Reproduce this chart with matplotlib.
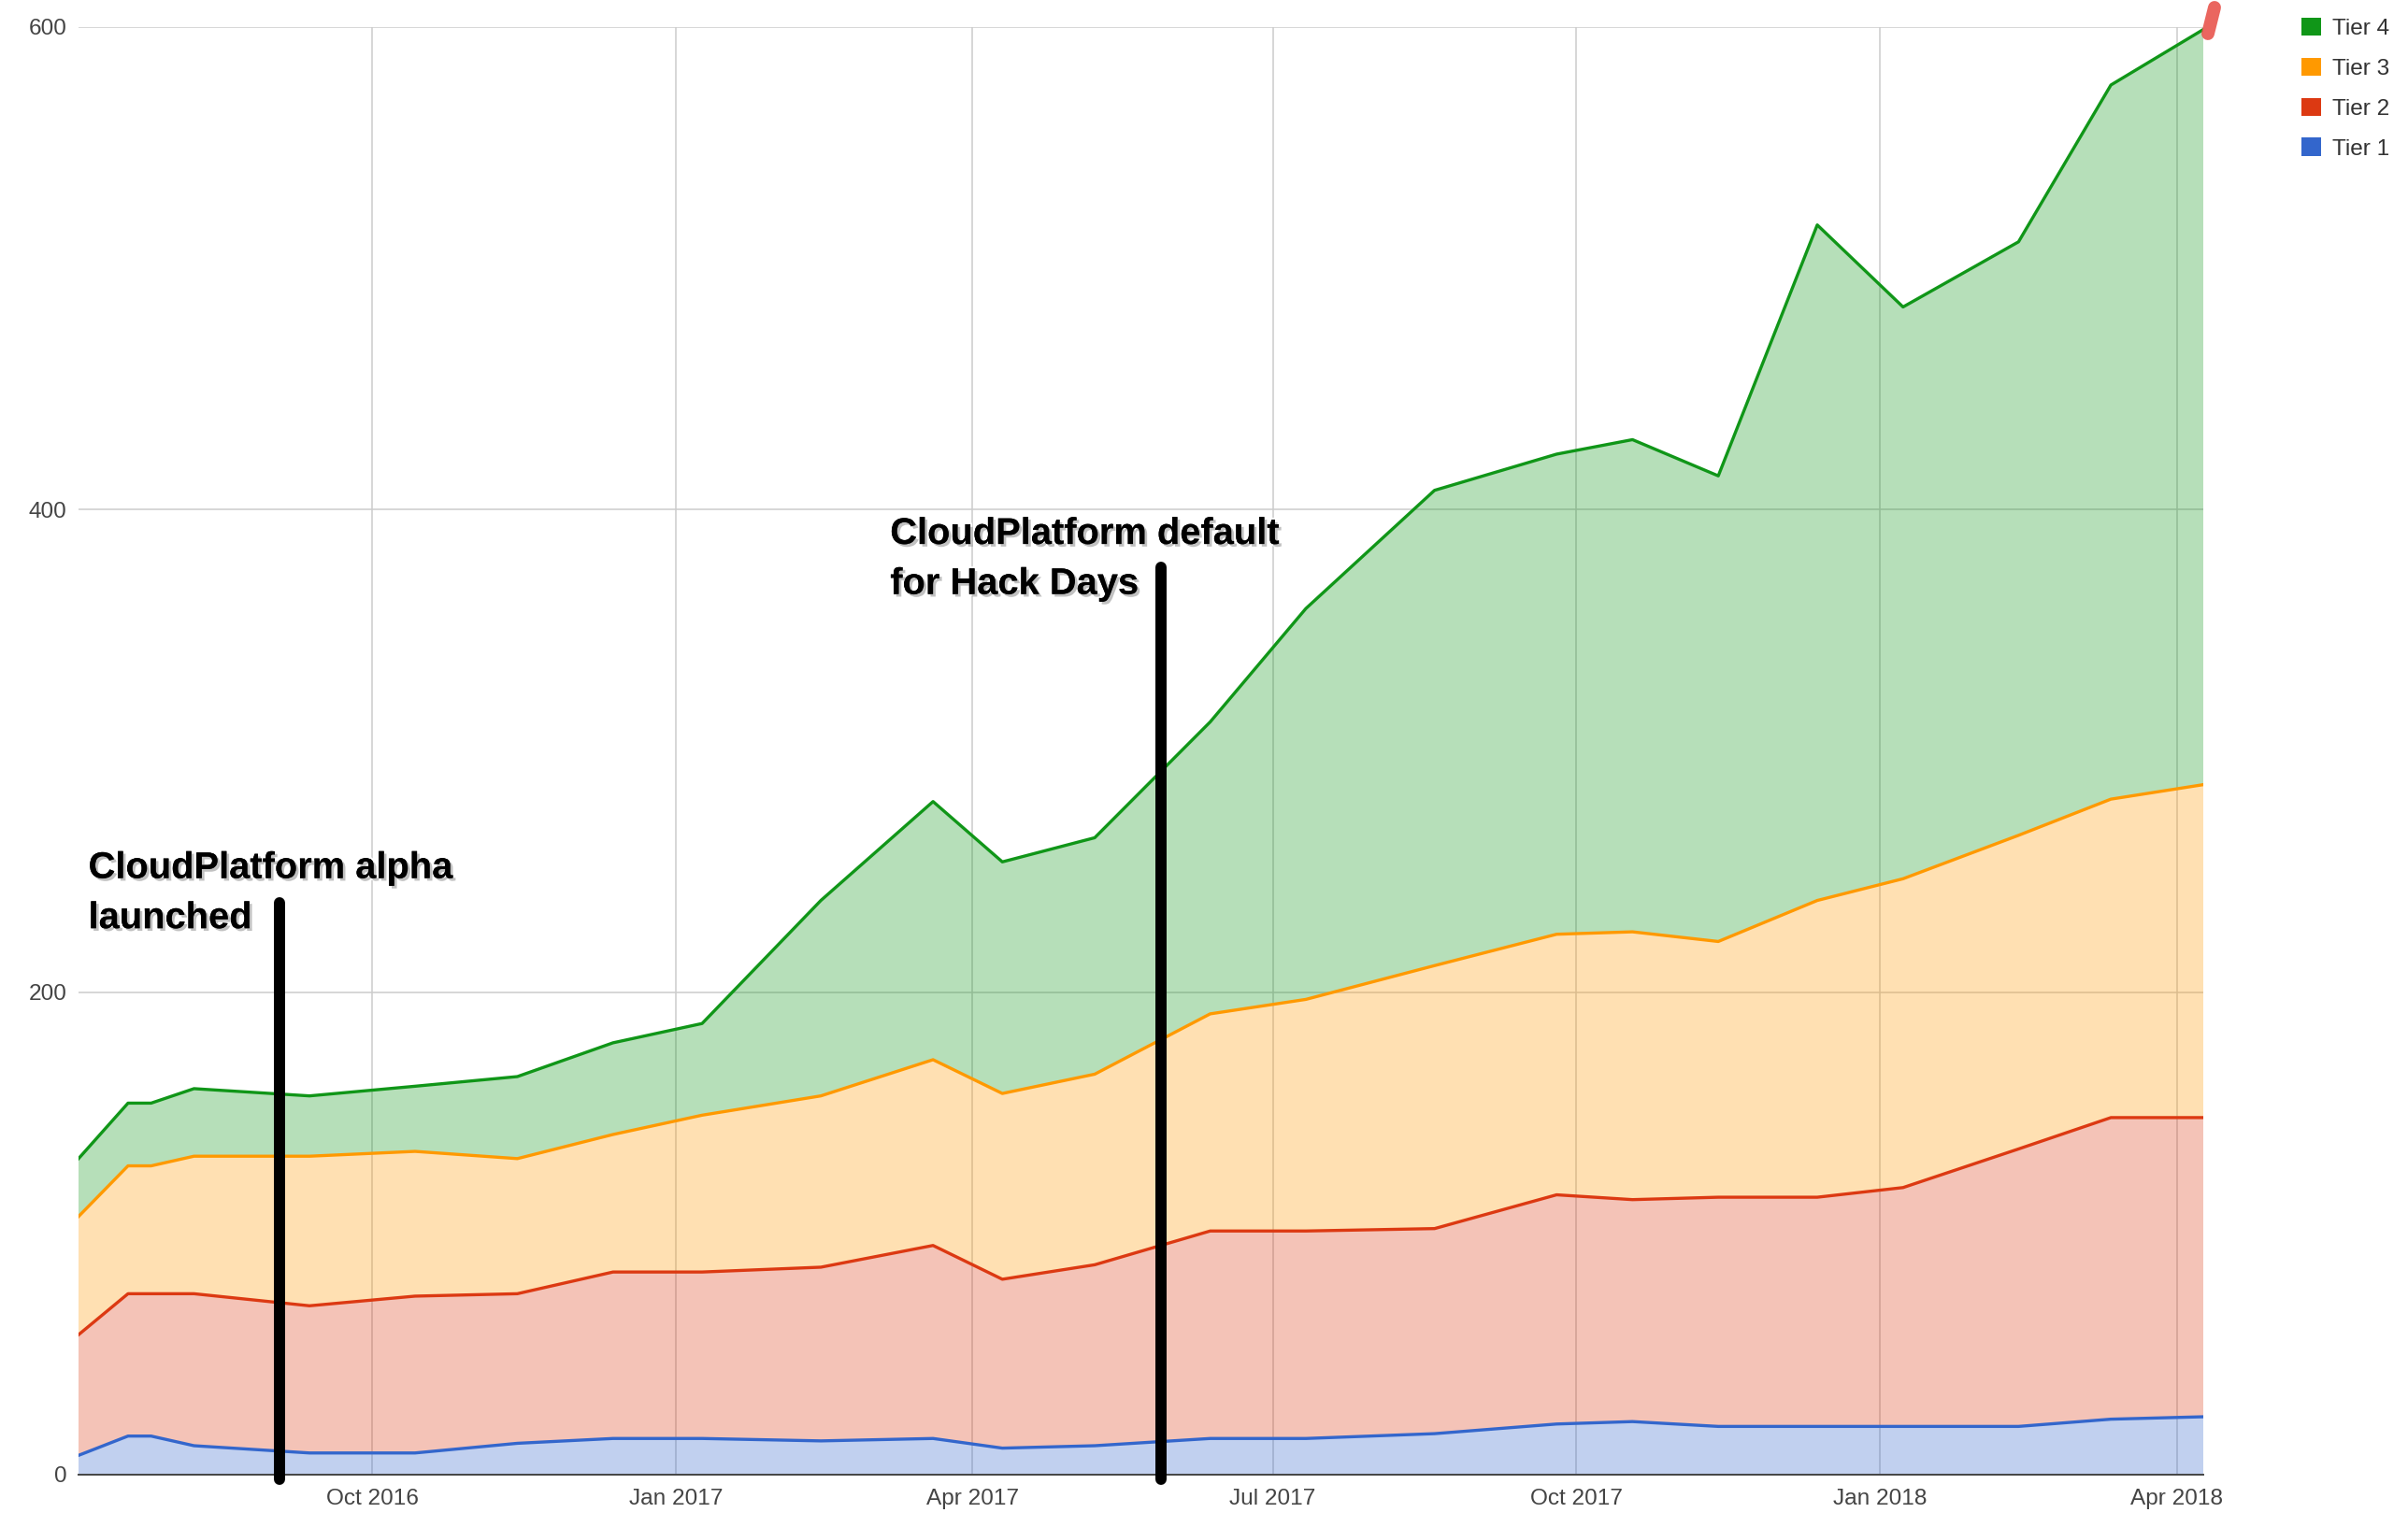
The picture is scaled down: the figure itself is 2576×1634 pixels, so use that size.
import numpy as np
import pandas as pd
import matplotlib
matplotlib.use("Agg")
import matplotlib.pyplot as plt
import matplotlib.dates as mdates
import matplotlib.patheffects as pe
from matplotlib.patches import Patch
from matplotlib.lines import Line2D

plt.rcParams['font.family'] = ['Liberation Sans', 'DejaVu Sans']

# data (stacked values per tier)
dates = pd.to_datetime([
    "2016-07-04", "2016-07-19", "2016-07-26", "2016-08-08", "2016-09-12",
    "2016-10-14", "2016-11-14", "2016-12-13", "2017-01-09", "2017-02-14",
    "2017-03-20", "2017-04-10", "2017-05-08", "2017-06-12", "2017-07-11",
    "2017-08-19", "2017-09-25", "2017-10-18", "2017-11-13", "2017-12-13",
    "2018-01-08", "2018-02-12", "2018-03-12", "2018-04-09"])
tier1 = [8, 16, 16, 12, 9, 9, 13, 15, 15, 14, 15, 11, 12, 15, 15, 17, 21, 22, 20, 20, 20, 20, 23, 24]
tier2 = [50, 59, 59, 63, 61, 65, 62, 69, 69, 72, 80, 70, 75, 86, 86, 85, 95, 92, 95, 95, 99, 115, 125, 124]
tier3 = [49, 53, 53, 57, 62, 60, 56, 57, 65, 71, 77, 77, 79, 90, 96, 109, 108, 111, 106, 123, 128, 130, 132, 138]
tier4 = [24, 26, 26, 28, 25, 27, 34, 38, 38, 81, 107, 96, 98, 121, 162, 197, 199, 204, 193, 280, 237, 246, 296, 313]
labels = ["Tier 1", "Tier 2", "Tier 3", "Tier 4"]
colors = ["#3366cc", "#dc3912", "#ff9900", "#109618"]

# annotations: (date of marker, top of marker, text, text x date, last-line baseline y)
notes = [
    ("2016-09-03", 237, "CloudPlatform alpha\nlaunched", "2016-07-07", 226.5),
    ("2017-05-28", 376, "CloudPlatform default\nfor Hack Days", "2017-03-07", 365),
]

fig = plt.figure(figsize=(25.76, 16.34), dpi=100)
ax = fig.add_axes([84 / 2576, 56 / 1634, (2357 - 84) / 2576, (1605 - 56) / 1634])

series = [tier1, tier2, tier3, tier4]
ax.stackplot(dates, *series, colors=colors, alpha=0.3, linewidth=0, zorder=2)
tops = np.cumsum(np.array(series), axis=0)
for top, c in zip(tops, colors):
    ax.plot(dates, top, color=c, lw=2.4, zorder=3, solid_joinstyle='round')

ax.set_xlim(dates[0], dates[-1])
ax.set_ylim(0, 600)
ax.set_yticks([0, 200, 400, 600])
ax.xaxis.set_major_locator(mdates.MonthLocator(bymonth=[1, 4, 7, 10]))
ax.xaxis.set_major_formatter(mdates.DateFormatter('%b %Y'))
ax.grid(True, color='#cccccc', lw=1.1, zorder=0)
ax.set_axisbelow(True)
for s in ['left', 'right', 'top']:
    ax.spines[s].set_visible(False)
ax.spines['bottom'].set_color('#444444')
ax.spines['bottom'].set_linewidth(1.4)
ax.spines['bottom'].set_zorder(4)
ax.tick_params(axis='both', length=0, labelsize=17.6, labelcolor='#444444')
ax.tick_params(axis='x', pad=11)
ax.tick_params(axis='y', pad=9)

shadow = [pe.withStroke(linewidth=3, foreground='white'),
          pe.SimplePatchShadow(offset=(2, -2), shadow_rgbFace='#999999', alpha=0.6), pe.Normal()]
for bar_date, bar_top, txt, tx, ty in notes:
    ax.plot([pd.Timestamp(bar_date)] * 2, [-2, bar_top], color='black', lw=8.6,
            solid_capstyle='round', zorder=6, clip_on=False)
    ax.text(pd.Timestamp(tx), ty, txt, fontsize=28.7, fontweight='bold', color='black',
            va='baseline', ha='left', linespacing=1.52, zorder=7, path_effects=shadow)

handles = [Patch(facecolor=c, edgecolor='none') for c in colors][::-1]
fig.legend(handles, labels[::-1], loc='upper left', bbox_to_anchor=(2462 / 2576, 1 - 19 / 1634),
           frameon=False, borderpad=0, borderaxespad=0, fontsize=17.6, handlelength=0.85,
           handleheight=0.85, handletextpad=0.5, labelspacing=0.8, labelcolor='#333333')

# small red brush mark at the top right corner
fig.add_artist(Line2D([2362 / 2576, 2369 / 2576], [1 - 36 / 1634, 1 - 8 / 1634],
                      color='#e8554e', lw=10, solid_capstyle='round', alpha=0.9))

fig.savefig("out.png", dpi=100)
